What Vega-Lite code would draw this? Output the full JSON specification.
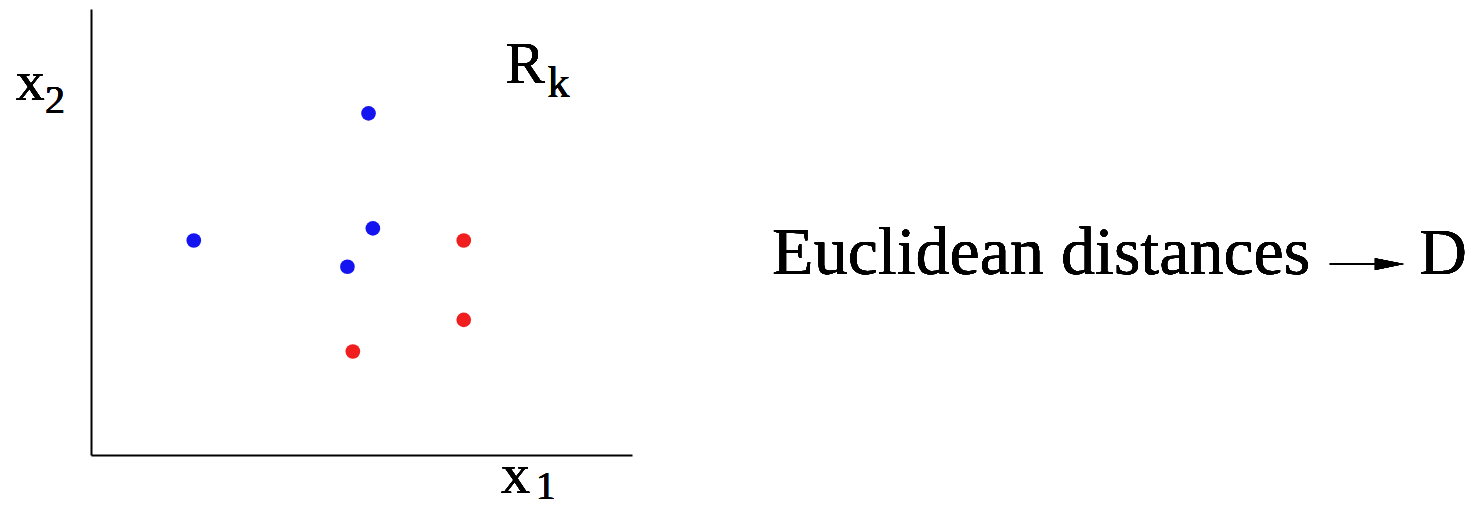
{
  "$schema": "https://vega.github.io/schema/vega-lite/v6.json",
  "width": 541,
  "height": 446,
  "autosize": "none",
  "padding": {"left": 91, "top": 9, "right": 838, "bottom": 52},
  "background": "white",
  "config": {
    "view": {"stroke": null},
    "axis": {
      "domain": true,
      "domainColor": "black",
      "domainWidth": 2,
      "ticks": false,
      "labels": false,
      "grid": false,
      "title": null
    },
    "text": {"font": "Liberation Serif", "color": "black", "align": "left", "baseline": "alphabetic"}
  },
  "data": {
    "values": [
      {"x1": 5.13, "x2": 7.66, "class": "a"},
      {"x1": 5.21, "x2": 5.08, "class": "a"},
      {"x1": 1.90, "x2": 4.81, "class": "a"},
      {"x1": 4.74, "x2": 4.22, "class": "a"},
      {"x1": 6.89, "x2": 4.81, "class": "b"},
      {"x1": 6.89, "x2": 3.03, "class": "b"},
      {"x1": 4.84, "x2": 2.32, "class": "b"}
    ]
  },
  "layer": [
    {
      "mark": {"type": "point", "filled": true, "opacity": 1, "size": 215, "shape": "circle"},
      "encoding": {
        "x": {"field": "x1", "type": "quantitative", "scale": {"domain": [0, 10], "nice": false, "zero": false}, "axis": {"orient": "bottom"}},
        "y": {"field": "x2", "type": "quantitative", "scale": {"domain": [0, 10], "nice": false, "zero": false}, "axis": {"orient": "left"}},
        "color": {"field": "class", "type": "nominal", "scale": {"domain": ["a", "b"], "range": ["#1414f0", "#f01e1e"]}, "legend": null}
      }
    },
    {
      "mark": {"type": "text", "fontSize": 58, "clip": false},
      "encoding": {"x": {"datum": -1.39}, "y": {"datum": 7.96}, "text": {"value": "x"}}
    },
    {
      "mark": {"type": "text", "fontSize": 40, "clip": false},
      "encoding": {"x": {"datum": -0.85}, "y": {"datum": 7.67}, "text": {"value": "2"}}
    },
    {
      "mark": {"type": "text", "fontSize": 58, "clip": false},
      "encoding": {"x": {"datum": 7.58}, "y": {"datum": -0.85}, "text": {"value": "x"}}
    },
    {
      "mark": {"type": "text", "fontSize": 40, "clip": false},
      "encoding": {"x": {"datum": 8.22}, "y": {"datum": -0.99}, "text": {"value": "1"}}
    },
    {
      "mark": {"type": "text", "fontSize": 59, "clip": false},
      "encoding": {"x": {"datum": 7.66}, "y": {"datum": 8.34}, "text": {"value": "R"}}
    },
    {
      "mark": {"type": "text", "fontSize": 44, "clip": false},
      "encoding": {"x": {"datum": 8.44}, "y": {"datum": 8.03}, "text": {"value": "k"}}
    },
    {
      "mark": {"type": "text", "fontSize": 68, "clip": false},
      "encoding": {"x": {"datum": 12.59}, "y": {"datum": 4.06}, "text": {"value": "Euclidean distances"}}
    },
    {
      "mark": {"type": "rule", "color": "black", "strokeWidth": 2, "clip": false},
      "encoding": {"x": {"datum": 22.9}, "x2": {"datum": 23.8}, "y": {"datum": 4.28}}
    },
    {
      "mark": {"type": "point", "filled": true, "opacity": 1, "color": "black", "size": 841, "shape": "M-1,-0.41L1,0L-1,0.41Z", "clip": false},
      "encoding": {"x": {"datum": 24.0}, "y": {"datum": 4.28}}
    },
    {
      "mark": {"type": "text", "fontSize": 66, "clip": false},
      "encoding": {"x": {"datum": 24.55}, "y": {"datum": 4.06}, "text": {"value": "D"}}
    }
  ]
}
